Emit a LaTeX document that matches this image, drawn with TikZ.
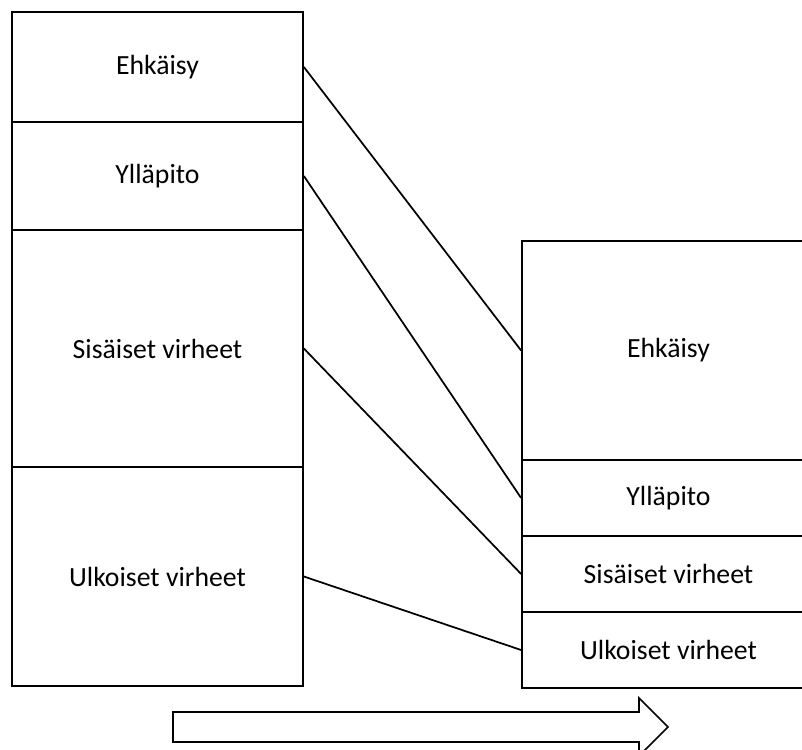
\documentclass[tikz,border=0pt]{standalone}
\usepackage{fontspec}
\setmainfont{Carlito}
\begin{document}
\begin{tikzpicture}[x=0.75pt,y=-0.75pt,
  box/.style={draw=black,line width=1.3pt,rectangle,inner sep=0pt,
    font=\fontsize{20.8}{24}\selectfont},
  link/.style={draw=black,line width=1.3pt},
  bigarrow/.style={draw=black,line width=1.3pt,fill=white,line join=miter}]
\clip (0,0) rectangle (802,749);
% left column
\node[box,minimum width=218.25pt,minimum height=82.5pt] (L1) at (157.5,67) {Ehkäisy};
\node[box,minimum width=218.25pt,minimum height=81pt] (L2) at (157.5,176) {Ylläpito};
\node[box,minimum width=218.25pt,minimum height=177.75pt] (L3) at (157.5,348.5) {Sisäiset virheet};
\node[box,minimum width=218.25pt,minimum height=164.25pt] (L4) at (157.5,576.5) {Ulkoiset virheet};
% right column
\node[box,minimum width=219.75pt,minimum height=164.25pt] (R1) at (668.5,350.5) {Ehkäisy};
\node[box,minimum width=219.75pt,minimum height=57pt] (R2) at (668.5,498) {Ylläpito};
\node[box,minimum width=219.75pt,minimum height=57pt] (R3) at (668.5,574) {Sisäiset virheet};
\node[box,minimum width=219.75pt,minimum height=57pt] (R4) at (668.5,650) {Ulkoiset virheet};
% connectors
\draw[link] (L1.east) -- (R1.west);
\draw[link] (L2.east) -- (R2.west);
\draw[link] (L3.east) -- (R3.west);
\draw[link] (L4.east) -- (R4.west);
% block arrow
\draw[bigarrow] (173,712) -- (639,712) -- (639,698) -- (668,727) -- (639,756) -- (639,742) -- (173,742) -- cycle;
\end{tikzpicture}
\end{document}
